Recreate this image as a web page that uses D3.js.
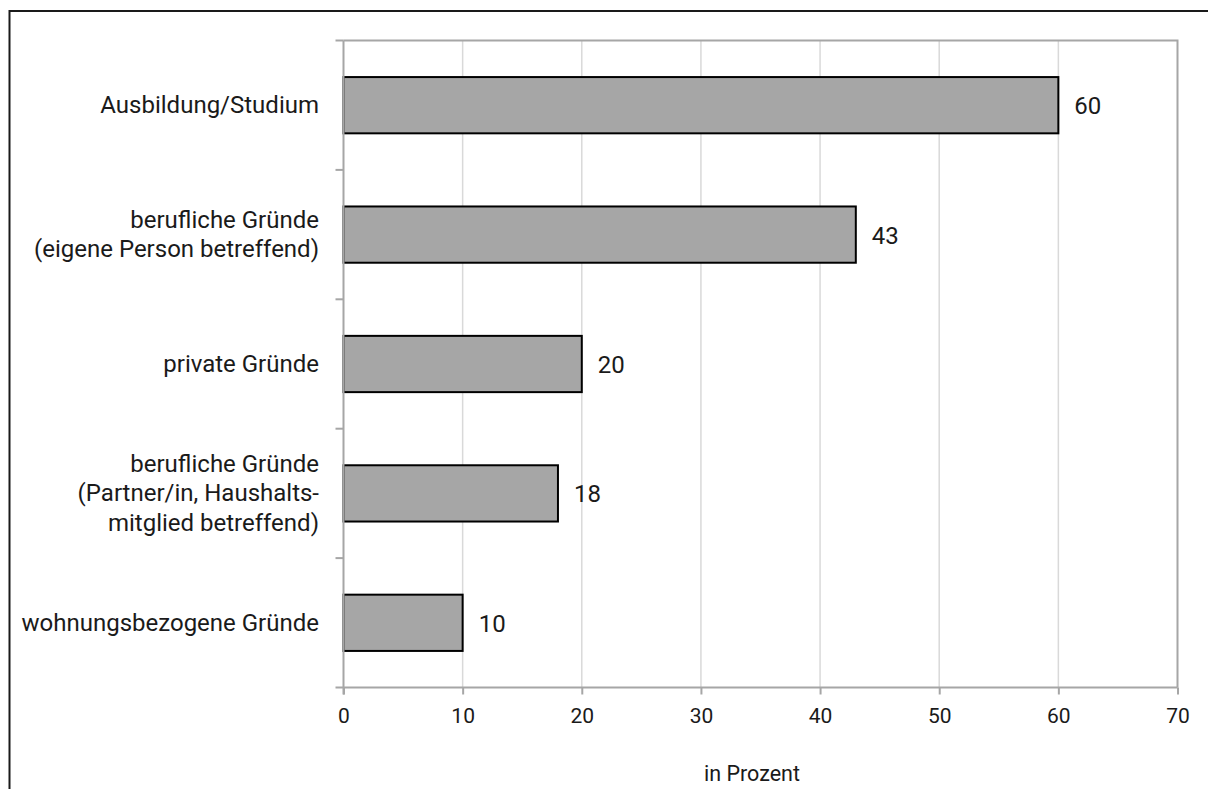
<!DOCTYPE html>
<html><head><meta charset="utf-8">
<script src="https://cdn.jsdelivr.net/npm/d3@7"></script>
<style>
  body { margin: 0; background: #fff; }
  text { font-family: Roboto, "Noto Sans", sans-serif; fill: #1a1a1a; }
</style>
</head><body>
<svg id="chart" width="1208" height="789"></svg>
<script>
// Umzugsgründe, Anteil in Prozent (Mehrfachnennungen)
const categories = [
  ["Ausbildung/Studium"],
  ["berufliche Gründe", "(eigene Person betreffend)"],
  ["private Gründe"],
  ["berufliche Gründe", "(Partner/in, Haushalts-", "mitglied betreffend)"],
  ["wohnungsbezogene Gründe"]
];
const values = [60, 43, 20, 18, 10];
const xTicks = [0, 10, 20, 30, 40, 50, 60, 70];
const axisTitle = "in Prozent";

const W = 1208, H = 789;
const plot = { left: 343.5, right: 1177.5, top: 40.5, bottom: 687.5 };

const svg = d3.select("#chart");

// outer frame: top and left edge only
svg.append("path")
  .attr("d", `M9.5,${H} V11 H${W}`)
  .attr("fill", "none")
  .attr("stroke", "#1a1a1a")
  .attr("stroke-width", 2);

const keys = d3.range(categories.length);
const x = d3.scaleLinear().domain([0, 70]).range([plot.left, plot.right]);
const y = d3.scaleBand().domain(keys).range([plot.top, plot.bottom]).padding(0);
const barH = y.bandwidth() / 2.3;

// vertical gridlines
svg.append("g")
  .selectAll("line")
  .data(xTicks.filter(d => d > 0 && d < 70))
  .join("line")
  .attr("x1", d => x(d)).attr("x2", d => x(d))
  .attr("y1", plot.top).attr("y2", plot.bottom)
  .attr("stroke", "#d9d9d9")
  .attr("stroke-width", 1.5);

// plot border (top and right)
svg.append("path")
  .attr("d", `M${plot.left},${plot.top} H${plot.right} V${plot.bottom}`)
  .attr("fill", "none")
  .attr("stroke", "#a6a6a6")
  .attr("stroke-width", 2);

// bars
svg.append("g")
  .selectAll("rect")
  .data(values)
  .join("rect")
  .attr("x", x(0))
  .attr("y", (d, i) => y(i) + (y.bandwidth() - barH) / 2)
  .attr("width", d => x(d) - x(0))
  .attr("height", barH)
  .attr("fill", "#a6a6a6")
  .attr("stroke", "#000")
  .attr("stroke-width", 2);

// x axis
const xAxis = d3.axisBottom(x).tickValues(xTicks).tickSize(7).tickPadding(14).tickFormat(d3.format("d"));
const gx = svg.append("g").attr("transform", `translate(0,${plot.bottom})`).call(xAxis);
gx.select(".domain").attr("stroke", "#a6a6a6").attr("stroke-width", 2)
  .attr("d", `M${plot.left - 8},0 H${plot.right}`);
gx.selectAll(".tick line").attr("stroke", "#a6a6a6").attr("stroke-width", 2);
gx.selectAll(".tick text").style("font-size", "21px").attr("fill", "#1a1a1a");

// y axis line with tick marks at band boundaries
svg.append("line")
  .attr("x1", plot.left).attr("x2", plot.left)
  .attr("y1", plot.top).attr("y2", plot.bottom + 7)
  .attr("stroke", "#a6a6a6").attr("stroke-width", 2);
svg.append("g")
  .selectAll("line")
  .data(keys.map(k => y(k)))
  .join("line")
  .attr("x1", plot.left - 8).attr("x2", plot.left)
  .attr("y1", d => d).attr("y2", d => d)
  .attr("stroke", "#a6a6a6").attr("stroke-width", 2);

// category labels
const lineH = 29.5;
svg.append("g")
  .selectAll("text")
  .data(categories)
  .join("text")
  .attr("text-anchor", "end")
  .style("font-size", "24px")
  .each(function (lines, i) {
    const cy = y(i) + y.bandwidth() / 2;
    d3.select(this).selectAll("tspan")
      .data(lines)
      .join("tspan")
      .attr("x", 319)
      .attr("y", (l, j) => cy + (j - (lines.length - 1) / 2) * lineH + 8)
      .text(l => l);
  });

// value labels
svg.append("g")
  .selectAll("text")
  .data(values)
  .join("text")
  .attr("x", d => x(d) + 16)
  .attr("y", (d, i) => y(i) + y.bandwidth() / 2 + 9)
  .style("font-size", "24px")
  .text(d => d);

// axis title
svg.append("text")
  .attr("x", 752)
  .attr("y", 781)
  .attr("text-anchor", "middle")
  .style("font-size", "21.5px")
  .text(axisTitle);
</script></body></html>
